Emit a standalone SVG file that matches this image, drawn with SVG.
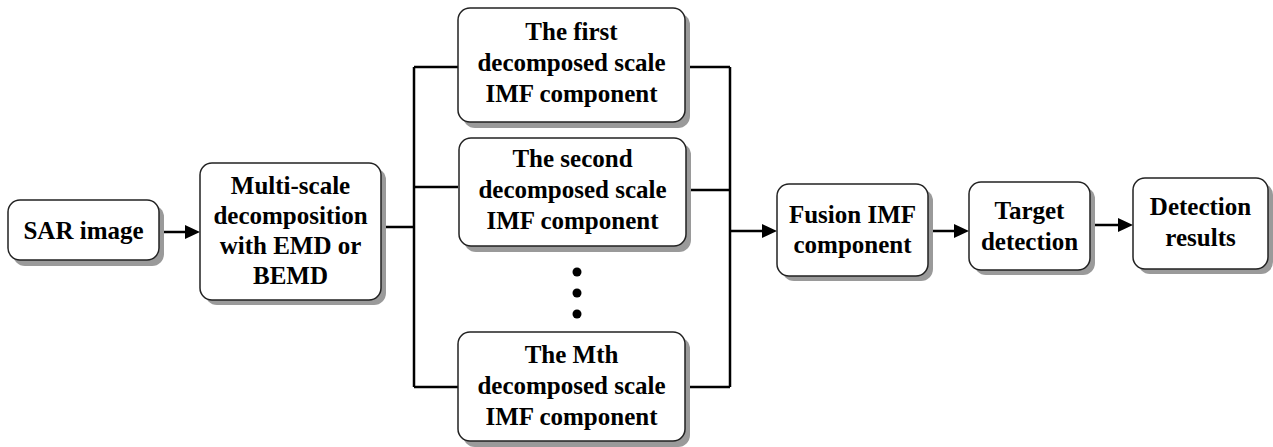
<svg xmlns="http://www.w3.org/2000/svg" width="1273" height="447" viewBox="0 0 1273 447">
<defs>
<style>
.box{fill:#fff;stroke:#222;stroke-width:1.5}
.sh{fill:#9a9a9a}
text{font-family:"Liberation Serif","Times New Roman",Times,serif;font-weight:700;font-size:25px;fill:#000;text-anchor:middle}
.ln{fill:none;stroke:#000;stroke-width:2.5}
.ah{fill:#000}
</style>
</defs>
<rect width="1273" height="447" fill="#fff"/>
<g id="connectors">
<line class="ln" x1="159" y1="232" x2="188" y2="232"/>
<path class="ah" d="M200,232 L185,225 L185,239 Z"/>
<line class="ln" x1="381" y1="227" x2="414" y2="227"/>
<line class="ln" x1="414" y1="67" x2="414" y2="387"/>
<line class="ln" x1="414" y1="67" x2="458" y2="67"/>
<line class="ln" x1="414" y1="187" x2="458" y2="187"/>
<line class="ln" x1="414" y1="387" x2="458" y2="387"/>
<line class="ln" x1="686" y1="67" x2="730" y2="67"/>
<line class="ln" x1="686" y1="190" x2="730" y2="190"/>
<line class="ln" x1="686" y1="387" x2="730" y2="387"/>
<line class="ln" x1="730" y1="67" x2="730" y2="387"/>
<line class="ln" x1="730" y1="231" x2="765" y2="231"/>
<path class="ah" d="M777,231 L762,224 L762,238 Z"/>
<line class="ln" x1="928" y1="231" x2="958" y2="231"/>
<path class="ah" d="M969,231 L954,224 L954,238 Z"/>
<line class="ln" x1="1090" y1="225" x2="1121" y2="225"/>
<path class="ah" d="M1133,225 L1118,218 L1118,232 Z"/>
</g>
<g id="dots">
<circle cx="577" cy="272" r="4.5"/>
<circle cx="577" cy="293" r="4.5"/>
<circle cx="577" cy="314" r="4.5"/>
</g>
<g id="sar">
<rect class="sh" x="13" y="205" width="151" height="61" rx="12"/>
<rect class="box" x="8" y="200" width="151" height="60" rx="12"/>
<text x="83.5" y="239">SAR image</text>
</g>
<g id="multi">
<rect class="sh" x="205" y="168" width="181" height="137" rx="12"/>
<rect class="box" x="200" y="163" width="181" height="137" rx="12"/>
<text x="290.5" y="194">Multi-scale</text>
<text x="290.5" y="224">decomposition</text>
<text x="290.5" y="254">with EMD or</text>
<text x="290.5" y="284">BEMD</text>
</g>
<g id="first">
<rect class="sh" x="463" y="13" width="227" height="115" rx="12"/>
<rect class="box" x="458" y="8" width="227" height="114" rx="12"/>
<text x="571.5" y="40">The first</text>
<text x="571.5" y="71">decomposed scale</text>
<text x="571.5" y="102">IMF component</text>
</g>
<g id="second">
<rect class="sh" x="464" y="143" width="227" height="109" rx="12"/>
<rect class="box" x="459" y="138" width="227" height="108" rx="12"/>
<text x="572.5" y="167">The second</text>
<text x="572.5" y="198">decomposed scale</text>
<text x="572.5" y="229">IMF component</text>
</g>
<g id="mth">
<rect class="sh" x="463" y="337" width="227" height="110" rx="12"/>
<rect class="box" x="458" y="332" width="227" height="109" rx="12"/>
<text x="571.5" y="363">The Mth</text>
<text x="571.5" y="394">decomposed scale</text>
<text x="571.5" y="425">IMF component</text>
</g>
<g id="fusion">
<rect class="sh" x="782" y="189" width="151" height="92" rx="12"/>
<rect class="box" x="777" y="184" width="151" height="92" rx="12"/>
<text x="852.5" y="223">Fusion IMF</text>
<text x="852.5" y="253">component</text>
</g>
<g id="target">
<rect class="sh" x="974" y="187" width="121" height="88" rx="12"/>
<rect class="box" x="969" y="182" width="121" height="88" rx="12"/>
<text x="1029.5" y="219">Target</text>
<text x="1029.5" y="250">detection</text>
</g>
<g id="results">
<rect class="sh" x="1138" y="183" width="135" height="91" rx="12"/>
<rect class="box" x="1133" y="178" width="135" height="91" rx="12"/>
<text x="1200.5" y="215">Detection</text>
<text x="1200.5" y="246">results</text>
</g>
</svg>
